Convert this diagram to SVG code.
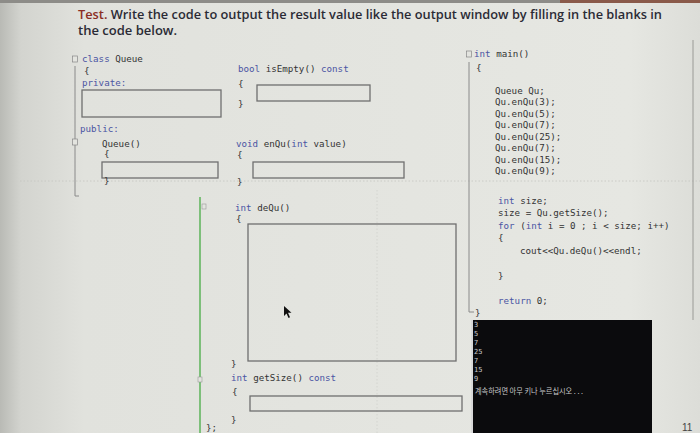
<svg xmlns="http://www.w3.org/2000/svg" width="700" height="433" viewBox="0 0 700 433">
<defs>
<linearGradient id="paper" x1="0" y1="0" x2="1" y2="0">
<stop offset="0" stop-color="#b9bab5"/>
<stop offset="0.03" stop-color="#d3d4cf"/>
<stop offset="0.12" stop-color="#e1e2dd"/>
<stop offset="0.9" stop-color="#e6e7e2"/>
<stop offset="1" stop-color="#dcddd8"/>
</linearGradient>
<style>
.code{font-family:"DejaVu Sans Mono","Liberation Mono",monospace;font-size:9.2px;fill:#333}
.kw{fill:#4b55a3}
.box{fill:none;stroke:#6f6f6f;stroke-width:1.3}
.title{font-family:"Open Sans","Liberation Sans",sans-serif;font-size:12.5px;font-weight:600;fill:#2b2b35}
.guide{stroke:#8a8a8a;stroke-width:1;fill:none}
.con{font-family:"DejaVu Sans Mono",monospace;font-size:7px;fill:#c9c9c9}
</style>
</defs>
<rect x="0" y="0" width="700" height="433" fill="url(#paper)"/>
<rect x="0" y="0" width="700" height="3" fill="#8d8c88"/>
<rect x="560" y="0" width="140" height="3" fill="#8a5a4a"/>
<line x1="20" y1="181" x2="700" y2="181" stroke="#c4c5c0" stroke-width="0.8" stroke-dasharray="1.5 2"/>
<line x1="377" y1="190" x2="377" y2="433" stroke="#cfd0cb" stroke-width="0.8" stroke-dasharray="1.5 2"/>
<line x1="693" y1="40" x2="693" y2="320" stroke="#9a9a96" stroke-width="1"/>

<g id="title">
<text class="title" x="78" y="19" textLength="584" lengthAdjust="spacingAndGlyphs"><tspan fill="#8b2e24">Test.</tspan> Write the code to output the result value like the output window by filling in the blanks in</text>
<text class="title" x="78" y="35" textLength="99" lengthAdjust="spacingAndGlyphs">the code below.</text>
</g>

<g id="class-queue">
<line class="guide" x1="75" y1="66" x2="75" y2="196"/>
<line class="guide" x1="75" y1="196" x2="79" y2="196"/>
<rect x="72.5" y="56" width="5" height="6" fill="#e3e4df" stroke="#888" stroke-width="0.7"/>
<rect x="72.5" y="139" width="5" height="6" fill="#e3e4df" stroke="#888" stroke-width="0.7"/>
<text class="code" x="82" y="62"><tspan class="kw">class</tspan> Queue</text>
<text class="code" x="84" y="74">{</text>
<text class="code kw" x="82" y="86">private:</text>
<rect class="box" x="82" y="90" width="139" height="27"/>
<text class="code kw" x="80" y="132">public:</text>
<text class="code" x="102" y="147">Queue()</text>
<text class="code" x="104" y="157">{</text>
<rect class="box" x="102" y="162" width="116" height="16"/>
<text class="code" x="104" y="184">}</text>
</g>

<g id="isEmpty">
<text class="code" x="238" y="72"><tspan class="kw">bool</tspan> isEmpty() <tspan class="kw">const</tspan></text>
<text class="code" x="238" y="87">{</text>
<rect class="box" x="257" y="85" width="113" height="16"/>
<text class="code" x="238" y="107">}</text>
</g>

<g id="enQu">
<text class="code" x="236" y="147"><tspan class="kw">void</tspan> enQu(<tspan class="kw">int</tspan> value)</text>
<text class="code" x="237" y="158">{</text>
<rect class="box" x="253" y="162" width="151" height="16"/>
<text class="code" x="237" y="185">}</text>
</g>

<g id="margin">
<line x1="200" y1="197" x2="200" y2="433" stroke="#7dbf7a" stroke-width="2"/>
<rect x="202" y="204" width="4" height="5" fill="#e3e4df" stroke="#999" stroke-width="0.6"/>
<rect x="198" y="377" width="4" height="5" fill="#e3e4df" stroke="#999" stroke-width="0.6"/>
</g>

<g id="deQu">
<text class="code" x="235" y="211"><tspan class="kw">int</tspan> deQu()</text>
<text class="code" x="236" y="222">{</text>
<rect class="box" x="248" y="224" width="208" height="137"/>
<text class="code" x="231" y="367">}</text>
</g>
<polygon points="284,306 284,316 286.5,313.5 288.5,318 290,317.3 288,312.8 291.5,312.8" fill="#111"/>

<g id="getSize">
<text class="code" x="231" y="381"><tspan class="kw">int</tspan> getSize() <tspan class="kw">const</tspan></text>
<text class="code" x="232" y="395">{</text>
<rect class="box" x="250" y="396" width="212" height="15"/>
<text class="code" x="231" y="423">}</text>
<text class="code" x="206" y="431">};</text>
</g>

<g id="main">
<line class="guide" x1="469" y1="62" x2="469" y2="312"/>
<line class="guide" x1="469" y1="312" x2="474" y2="312"/>
<rect x="466.5" y="51" width="5" height="6" fill="#e3e4df" stroke="#888" stroke-width="0.7"/>
<text class="code" x="474" y="57"><tspan class="kw">int</tspan> main()</text>
<text class="code" x="476" y="71">{</text>
<text class="code" x="495" y="94">Queue Qu;</text>
<text class="code" x="495" y="105">Qu.enQu(3);</text>
<text class="code" x="495" y="117">Qu.enQu(5);</text>
<text class="code" x="495" y="128">Qu.enQu(7);</text>
<text class="code" x="495" y="140">Qu.enQu(25);</text>
<text class="code" x="495" y="151">Qu.enQu(7);</text>
<text class="code" x="495" y="163">Qu.enQu(15);</text>
<text class="code" x="495" y="174">Qu.enQu(9);</text>
<text class="code" x="498" y="204"><tspan class="kw">int</tspan> size;</text>
<text class="code" x="498" y="216">size = Qu.getSize();</text>
<text class="code" x="498" y="229"><tspan class="kw">for</tspan> (<tspan class="kw">int</tspan> i = 0 ; i &lt; size; i++)</text>
<text class="code" x="498" y="241">{</text>
<text class="code" x="520" y="254">cout&lt;&lt;Qu.deQu()&lt;&lt;endl;</text>
<text class="code" x="498" y="279">}</text>
<text class="code" x="498" y="304"><tspan class="kw">return</tspan> 0;</text>
<text class="code" x="475" y="316">}</text>
</g>

<g id="console">
<rect x="471" y="320" width="2" height="113" fill="#d8d8d8"/>
<rect x="473" y="320" width="179" height="113" fill="#0b0b0d"/>
<text class="con" x="474" y="327">3</text>
<text class="con" x="474" y="336">5</text>
<text class="con" x="474" y="345">7</text>
<text class="con" x="474" y="354">25</text>
<text class="con" x="474" y="363">7</text>
<text class="con" x="474" y="372">15</text>
<text class="con" x="474" y="381">9</text>
<text x="475" y="394" font-family="'Noto Sans CJK KR',sans-serif" font-size="7.5" fill="#c9c9c9" textLength="108" lengthAdjust="spacingAndGlyphs">계속하려면 아무 키나 누르십시오 . . .</text>
</g>

<text x="682" y="431" font-family="'Liberation Sans',sans-serif" font-size="10" fill="#444">11</text>
</svg>
